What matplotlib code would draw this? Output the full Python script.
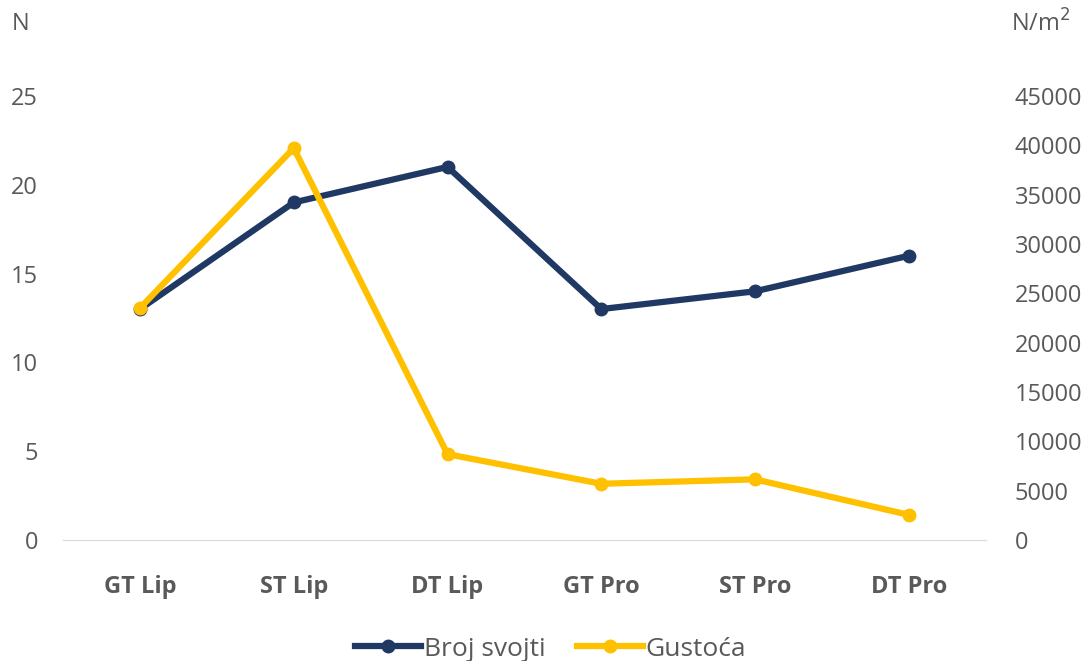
import matplotlib.pyplot as plt

plt.rcParams['font.family'] = ['Open Sans', 'DejaVu Sans']

categories = ["GT Lip", "ST Lip", "DT Lip", "GT Pro", "ST Pro", "DT Pro"]
broj_svojti = [13, 19, 21, 13, 14, 16]
gustoca = [23500, 39700, 8700, 5700, 6150, 2550]
left_ticks = [0, 5, 10, 15, 20, 25]
right_ticks = [0, 5000, 10000, 15000, 20000, 25000, 30000, 35000, 40000, 45000]

navy = "#1F3864"
gold = "#FFC000"
grey = "#595959"

fig = plt.figure(figsize=(10.88, 6.61), dpi=100)
ax = fig.add_axes([0.058, 0.183, 0.848, 0.672])
ax2 = ax.twinx()

x = range(len(categories))
l1, = ax.plot(x, broj_svojti, color=navy, lw=4.5, marker="o", ms=9, label="Broj svojti")
l2, = ax2.plot(x, gustoca, color=gold, lw=4.5, marker="o", ms=9, label="Gustoća")

ax.set_xlim(-0.5, len(categories) - 0.5)
ax.set_ylim(0, 25)
ax2.set_ylim(0, 45000)
ax.set_yticks(left_ticks)
ax2.set_yticks(right_ticks)
ax.set_xticks(list(x))
ax.set_xticklabels(categories, fontsize=21, fontweight="bold", color=grey)

for a in (ax, ax2):
    for s in a.spines.values():
        s.set_visible(False)
    a.tick_params(length=0, labelsize=17, labelcolor=grey)
ax.spines["bottom"].set_visible(True)
ax.spines["bottom"].set_color("#D9D9D9")
ax.tick_params(axis="y", pad=18)
ax2.tick_params(axis="y", pad=21)
ax.tick_params(axis="x", pad=25)

fig.text(0.011, 0.963, "N", fontsize=17, color=grey, va="center")
fig.text(0.929, 0.963, "N/m$^2$", fontsize=17, color=grey, va="center")

fig.legend(handles=[l1, l2], loc="center", bbox_to_anchor=(0.506, 0.018),
           ncol=2, frameon=False, fontsize=19, labelcolor=grey,
           handlelength=2.5, columnspacing=1.2, handletextpad=0.1)

fig.savefig("out.png", dpi=100)
